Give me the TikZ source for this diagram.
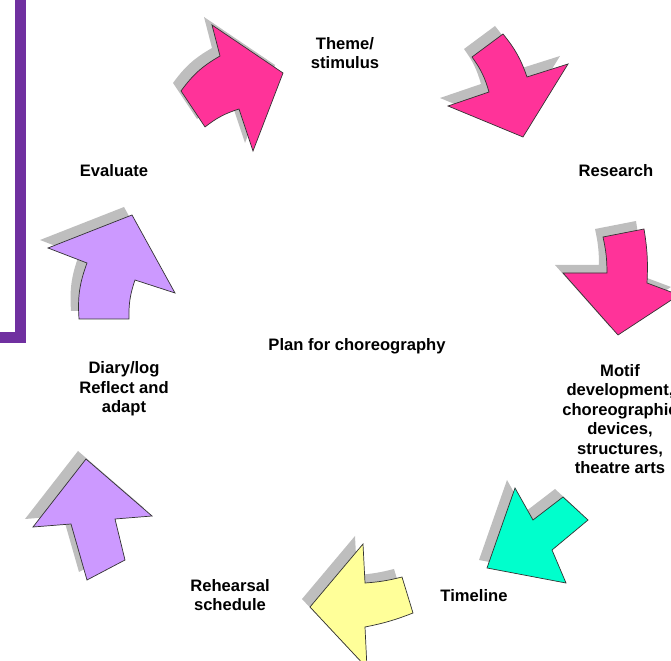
\documentclass[tikz,border=0pt]{standalone}
\usepackage{fontspec}
\setsansfont{Liberation Sans}
\definecolor{hotpink}{RGB}{255,51,153}
\definecolor{aqua}{RGB}{0,255,204}
\definecolor{paleyellow}{RGB}{255,255,153}
\definecolor{lilac}{RGB}{204,153,255}
\definecolor{framepurple}{RGB}{112,48,160}
\definecolor{shadowgrey}{RGB}{190,190,190}

\begin{document}
\begin{tikzpicture}[x=0.025cm, y=-0.025cm,
    blockarrow/.style={draw=black!80, line width=0.5pt,
        preaction={fill=shadowgrey, draw=none, transform canvas={shift={(-0.2cm,0.2cm)}}}},
    stage/.style={font=\sffamily\bfseries\fontsize{11.8}{13.9}\selectfont, align=center}]
        \useasboundingbox (0,0) rectangle (671,661);
        \clip (0,0) rectangle (671,661);
        % Purple frame of the panel on the left
        \draw[framepurple, line width=0.275cm] (20.5,-10) -- (20.5,337.5) -- (-10,337.5);
        % Arrows round the cycle
        \draw[blockarrow, fill=hotpink] (212,25) -- (283,73) -- (253,151) -- (239,109)
            to[bend right=10] (205,127) -- (181,91) to[bend left=12] (220,56) -- cycle;
        \draw[blockarrow, fill=hotpink] (472,57) -- (503,34) to[bend left=10] (527,77)
            -- (568,64) -- (523,137) -- (448,106) -- (489,92) to[bend right=10] (472,57) -- cycle;
        \draw[blockarrow, fill=hotpink] (603,237) -- (644,229) to[bend left=6] (647,283)
            -- (679,295) -- (618,335) -- (563,273) -- (607,273) to[bend right=6] (603,237) -- cycle;
        \draw[blockarrow, fill=aqua] (487,568) -- (515,488) -- (533,520) -- (563,497)
            -- (588,520) -- (552,550) -- (566,583) -- cycle;
        \draw[blockarrow, fill=paleyellow] (310,607) -- (363,544) -- (365,583) to[bend right=5] (402,577)
            -- (413,613) to[bend left=5] (365,627) -- (367,668) -- cycle;
        \draw[blockarrow, fill=lilac] (86,459) -- (152,516) -- (115,519) -- (125,560)
            -- (87,580) -- (71,524) -- (33,527) -- cycle;
        \draw[blockarrow, fill=lilac] (132,215) -- (175,293) -- (135,280) to[bend right=10] (129,319)
            -- (79,319) to[bend left=12] (87,263) -- (48,248) -- cycle;
        % Stage labels
        \node[stage] (theme) at (345,53) {Theme/\\stimulus};
        \node[stage] (research) at (616,171) {Research};
        \node[stage] (motif) at (620,419) {Motif\\development,\\choreographic\\devices,\\structures,\\theatre arts};
        \node[stage] (timeline) at (474,596) {Timeline};
        \node[stage] (rehearsal) at (230,595) {Rehearsal\\schedule};
        \node[stage] (diary) at (124,389) {Diary/log\\Reflect and\\adapt};
        \node[stage] (evaluate) at (114,171) {Evaluate};
        \node[stage] (plan) at (357,346) {Plan for choreography};
    \end{tikzpicture}
\end{document}
